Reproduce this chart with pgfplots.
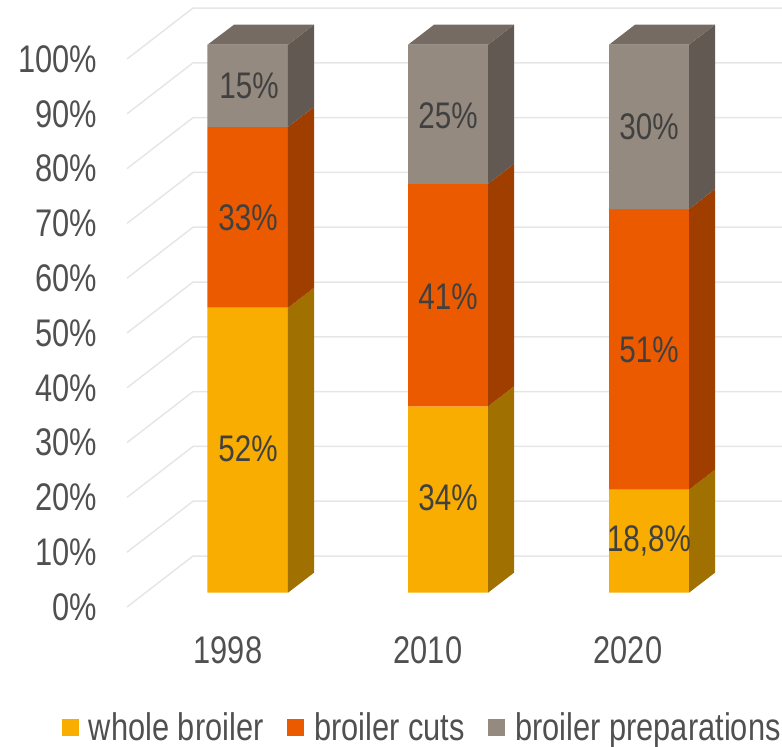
\documentclass[border=0pt]{standalone}
\usepackage{fontspec}
\setmainfont[FakeStretch=0.8]{Liberation Sans}
\usepackage{pgfplots}
\pgfplotsset{compat=1.18}
\definecolor{yfront}{HTML}{F8AD00}\definecolor{yside}{HTML}{A07000}
\definecolor{ofront}{HTML}{EC5A00}\definecolor{oside}{HTML}{A03E00}
\definecolor{gfront}{HTML}{948A80}\definecolor{gside}{HTML}{625A52}\definecolor{gtop}{HTML}{766B62}
\definecolor{txt}{HTML}{505050}\definecolor{lbl}{HTML}{404040}\definecolor{gridc}{HTML}{E6E6E6}
\newcommand{\lab}{\fontsize{37}{40}\selectfont}
\newcommand{\tlab}{\fontsize{38.5}{40}\selectfont}
\begin{document}
\begin{tikzpicture}
\path[use as bounding box] (-127pt,-140pt) rectangle (655pt,607pt);
\begin{axis}[
  at={(0pt,0pt)}, anchor=south west,
  scale only axis, width=655pt, height=607pt,
  xmin=127, xmax=782, ymin=0, ymax=110.77,
  axis line style={draw=none},
  clip=false,
  unbounded coords=jump,
  tick style={draw=none},
  xtick={228,428,628}, xticklabels={1998,2010,2020},
  ytick={0,10,...,100},
  yticklabels={0\%,10\%,20\%,30\%,40\%,50\%,60\%,70\%,80\%,90\%,100\%},
  yticklabel style={font=\tlab,text=txt,anchor=east,inner sep=0pt,xshift=-30pt},
  xticklabel style={font=\tlab,text=txt,anchor=center,inner sep=0pt,yshift=-43pt},
  legend style={at={(axis cs:62,-21.9)},anchor=west,draw=none,fill=none,inner sep=0pt,outer sep=0pt,
    font=\fontsize{38.5}{40}\selectfont,text=txt,legend columns=3,
    /tikz/every even column/.append style={column sep=21.5pt},
    /tikz/every odd column/.append style={column sep=8pt}},
  legend cell align=left,
]
% wall and floor gridlines
\addplot[forget plot,gridc,line width=1.5pt] coordinates {
 (127,0)(193,9.3)(782,9.3)(nan,nan)
 (127,10)(193,19.3)(782,19.3)(nan,nan)
 (127,20)(193,29.3)(782,29.3)(nan,nan)
 (127,30)(193,39.3)(782,39.3)(nan,nan)
 (127,40)(193,49.3)(782,49.3)(nan,nan)
 (127,50)(193,59.3)(782,59.3)(nan,nan)
 (127,60)(193,69.3)(782,69.3)(nan,nan)
 (127,70)(193,79.3)(782,79.3)(nan,nan)
 (127,80)(193,89.3)(782,89.3)(nan,nan)
 (127,90)(193,99.3)(782,99.3)(nan,nan)
 (127,100)(193,109.3)(782,109.3)
};
% front faces: x edges of each bar, y the cumulative shares
\addplot[forget plot,fill=yfront,draw=none,yshift=14.3pt] coordinates {
 (207.5,0)(288,0)(288,52)(207.5,52)(nan,nan)
 (408,0)(488,0)(488,34)(408,34)(nan,nan)
 (609,0)(689,0)(689,18.8)(609,18.8)};
\addplot[forget plot,fill=ofront,draw=none,yshift=14.3pt] coordinates {
 (207.5,52)(288,52)(288,85)(207.5,85)(nan,nan)
 (408,34)(488,34)(488,74.6)(408,74.6)(nan,nan)
 (609,18.8)(689,18.8)(689,70)(609,70)};
\addplot[forget plot,fill=gfront,draw=none,yshift=14.3pt] coordinates {
 (207.5,85)(288,85)(288,100)(207.5,100)(nan,nan)
 (408,74.6)(488,74.6)(488,100)(408,100)(nan,nan)
 (609,70)(689,70)(689,100)(609,100)};
% side faces
\addplot[forget plot,fill=yside,draw=none,yshift=14.3pt] coordinates {
 (288,0)(314,3.65)(314,55.65)(288,52)(nan,nan)
 (488,0)(514,3.65)(514,37.65)(488,34)(nan,nan)
 (689,0)(715,3.65)(715,22.45)(689,18.8)};
\addplot[forget plot,fill=oside,draw=none,yshift=14.3pt] coordinates {
 (288,52)(314,55.65)(314,88.65)(288,85)(nan,nan)
 (488,34)(514,37.65)(514,78.25)(488,74.6)(nan,nan)
 (689,18.8)(715,22.45)(715,73.65)(689,70)};
\addplot[forget plot,fill=gside,draw=none,yshift=14.3pt] coordinates {
 (288,85)(314,88.65)(314,103.65)(288,100)(nan,nan)
 (488,74.6)(514,78.25)(514,103.65)(488,100)(nan,nan)
 (689,70)(715,73.65)(715,103.65)(689,100)};
% top faces
\addplot[forget plot,fill=gtop,draw=none,yshift=14.3pt] coordinates {
 (207.5,100)(234,103.65)(314,103.65)(288,100)(nan,nan)
 (408,100)(434,103.65)(514,103.65)(488,100)(nan,nan)
 (609,100)(635,103.65)(715,103.65)(689,100)};
% legend
\pgfplotsset{legend image code/.code={\fill[#1] (0pt,-9pt) rectangle (17pt,8pt);}}
\addlegendimage{fill=yfront,draw=none}\addlegendentry{whole broiler}
\addlegendimage{fill=ofront,draw=none}\addlegendentry{broiler cuts}
\addlegendimage{fill=gfront,draw=none}\addlegendentry{broiler preparations}
% data labels
\begin{scope}[every node/.style={font=\lab,text=lbl,inner sep=0pt,yshift=14.3pt}]
\node at (axis cs:248,26.2) {52\%};
\node at (axis cs:248,68.5) {33\%};
\node at (axis cs:249,92.5) {15\%};
\node at (axis cs:448,17.3) {34\%};
\node at (axis cs:448,54) {41\%};
\node at (axis cs:448,87.1) {25\%};
\node at (axis cs:649,9.4) {18,8\%};
\node at (axis cs:649,44.4) {51\%};
\node at (axis cs:649,85) {30\%};
\end{scope}
\end{axis}
\end{tikzpicture}
\end{document}
